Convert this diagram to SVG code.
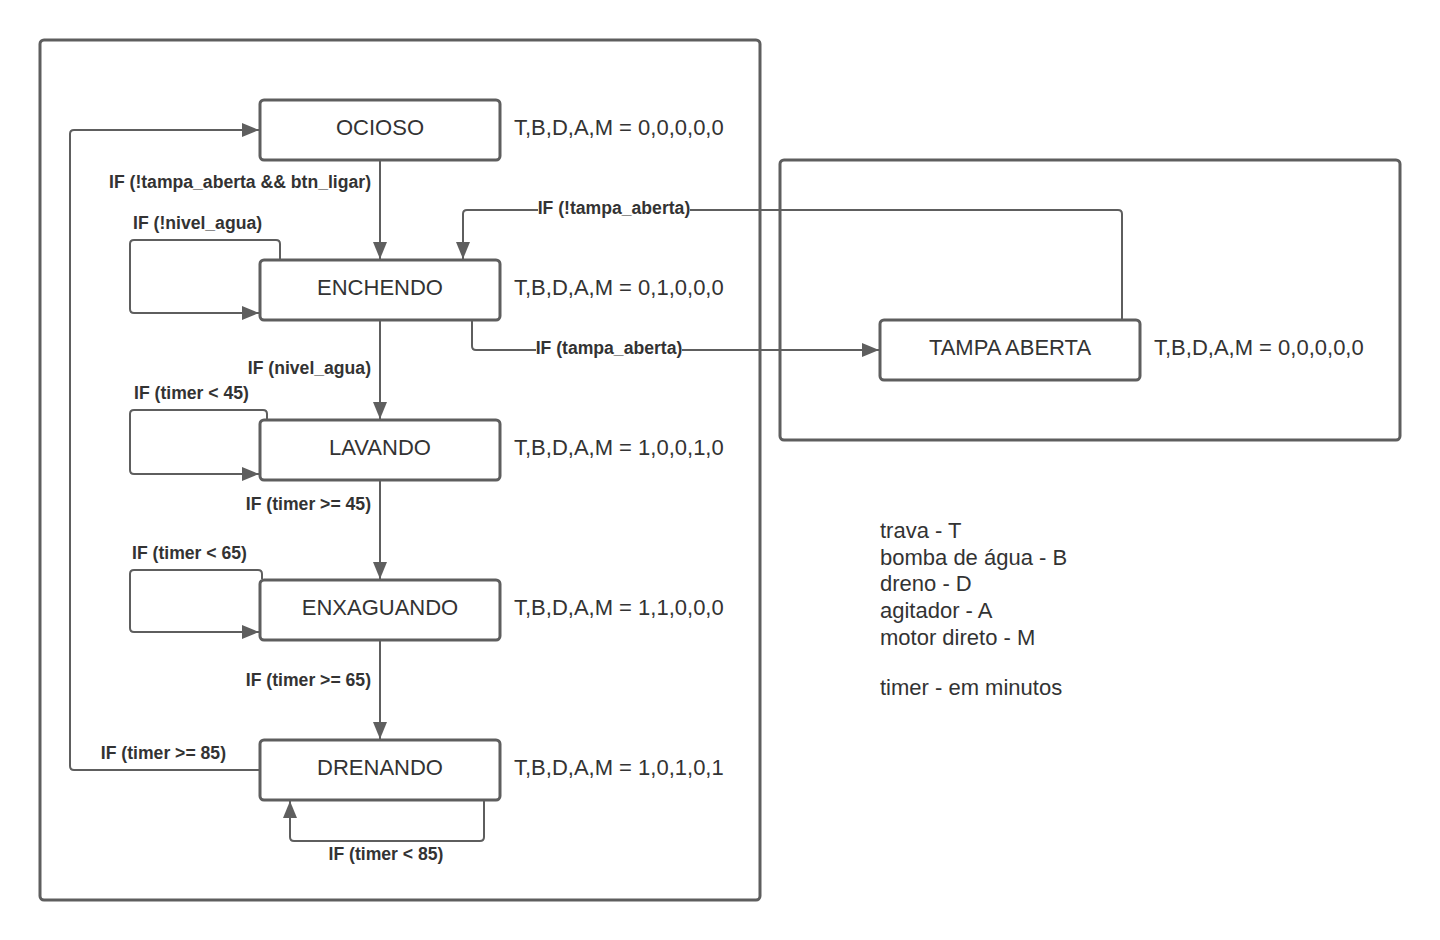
<svg xmlns="http://www.w3.org/2000/svg" width="1440" height="940" viewBox="0 0 1440 940">
<style>
.frame{fill:none;stroke:#5e5e5e;stroke-width:3}
.node rect{fill:#fff;stroke:#5e5e5e;stroke-width:3}
.name{font-family:"Liberation Sans",Arial,sans-serif;font-size:22px;fill:#333;text-anchor:middle;dominant-baseline:central}
.out{font-family:"Liberation Sans",Arial,sans-serif;font-size:22px;fill:#333;dominant-baseline:central}
.edge{fill:none;stroke:#5e5e5e;stroke-width:2}
.lbl{font-family:"Liberation Sans",Arial,sans-serif;font-size:17.6px;font-weight:bold;fill:#333;dominant-baseline:central}
.bg{fill:#fff}
</style>
<defs>
<marker id="ah" viewBox="0 0 17 14" refX="17" refY="7" markerWidth="17" markerHeight="14" markerUnits="userSpaceOnUse" orient="auto">
<path d="M0,0 L17,7 L0,14 Z" fill="#5e5e5e"/>
</marker>
</defs>
<rect width="1440" height="940" fill="#fff"/>
<rect class="frame" x="40" y="40" width="720" height="860" rx="4"/>
<rect class="frame" x="780" y="160" width="620" height="280" rx="4"/>

<g id="connectors">
<path class="edge" d="M260,770 H74 Q70,770 70,766 V134 Q70,130 74,130 H259" marker-end="url(#ah)"/>
<path class="edge" d="M380,161 V259" marker-end="url(#ah)"/>
<path class="edge" d="M280,259 V244 Q280,240 276,240 H134 Q130,240 130,244 V309 Q130,313 134,313 H259" marker-end="url(#ah)"/>
<path class="edge" d="M380,321 V419" marker-end="url(#ah)"/>
<path class="edge" d="M267,419 V414 Q267,410 263,410 H134 Q130,410 130,414 V470 Q130,474 134,474 H259" marker-end="url(#ah)"/>
<path class="edge" d="M380,481 V579" marker-end="url(#ah)"/>
<path class="edge" d="M262,579 V574 Q262,570 258,570 H134 Q130,570 130,574 V628 Q130,632 134,632 H259" marker-end="url(#ah)"/>
<path class="edge" d="M380,641 V739" marker-end="url(#ah)"/>
<path class="edge" d="M484,801 V837 Q484,841 480,841 H294 Q290,841 290,837 V801" marker-end="url(#ah)"/>
<path class="edge" d="M472,321 V346 Q472,350 476,350 H879" marker-end="url(#ah)"/>
<path class="edge" d="M1122,319 V214 Q1122,210 1118,210 H467 Q463,210 463,214 V259" marker-end="url(#ah)"/>
<rect class="bg" x="538" y="198" width="152" height="20"/>
<rect class="bg" x="536" y="338" width="146" height="20"/>
<text class="lbl" x="371" y="182" text-anchor="end">IF (!tampa_aberta &amp;&amp; btn_ligar)</text>
<text class="lbl" x="133" y="223">IF (!nivel_agua)</text>
<text class="lbl" x="371" y="368" text-anchor="end">IF (nivel_agua)</text>
<text class="lbl" x="134" y="393">IF (timer &lt; 45)</text>
<text class="lbl" x="371" y="504" text-anchor="end">IF (timer &gt;= 45)</text>
<text class="lbl" x="132" y="553">IF (timer &lt; 65)</text>
<text class="lbl" x="371" y="680" text-anchor="end">IF (timer &gt;= 65)</text>
<text class="lbl" x="226" y="753" text-anchor="end">IF (timer &gt;= 85)</text>
<text class="lbl" x="386" y="854" text-anchor="middle">IF (timer &lt; 85)</text>
<text class="lbl" x="614" y="208" text-anchor="middle">IF (!tampa_aberta)</text>
<text class="lbl" x="609" y="348" text-anchor="middle">IF (tampa_aberta)</text>
</g>

<g id="ocioso" class="node"><rect x="260" y="100" width="240" height="60" rx="4"/><text class="name" x="380" y="127">OCIOSO</text><text class="out" x="514" y="127">T,B,D,A,M = 0,0,0,0,0</text></g>
<g id="enchendo" class="node"><rect x="260" y="260" width="240" height="60" rx="4"/><text class="name" x="380" y="287">ENCHENDO</text><text class="out" x="514" y="287">T,B,D,A,M = 0,1,0,0,0</text></g>
<g id="lavando" class="node"><rect x="260" y="420" width="240" height="60" rx="4"/><text class="name" x="380" y="447">LAVANDO</text><text class="out" x="514" y="447">T,B,D,A,M = 1,0,0,1,0</text></g>
<g id="enxaguando" class="node"><rect x="260" y="580" width="240" height="60" rx="4"/><text class="name" x="380" y="607">ENXAGUANDO</text><text class="out" x="514" y="607">T,B,D,A,M = 1,1,0,0,0</text></g>
<g id="drenando" class="node"><rect x="260" y="740" width="240" height="60" rx="4"/><text class="name" x="380" y="767">DRENANDO</text><text class="out" x="514" y="767">T,B,D,A,M = 1,0,1,0,1</text></g>
<g id="tampa_aberta" class="node"><rect x="880" y="320" width="260" height="60" rx="4"/><text class="name" x="1010" y="347">TAMPA ABERTA</text><text class="out" x="1154" y="347">T,B,D,A,M = 0,0,0,0,0</text></g>

<g id="legend">
<text class="out" x="880" y="530">trava - T</text>
<text class="out" x="880" y="557">bomba de água - B</text>
<text class="out" x="880" y="583">dreno - D</text>
<text class="out" x="880" y="610">agitador - A</text>
<text class="out" x="880" y="637">motor direto - M</text>
<text class="out" x="880" y="687">timer - em minutos</text>
</g>
</svg>
